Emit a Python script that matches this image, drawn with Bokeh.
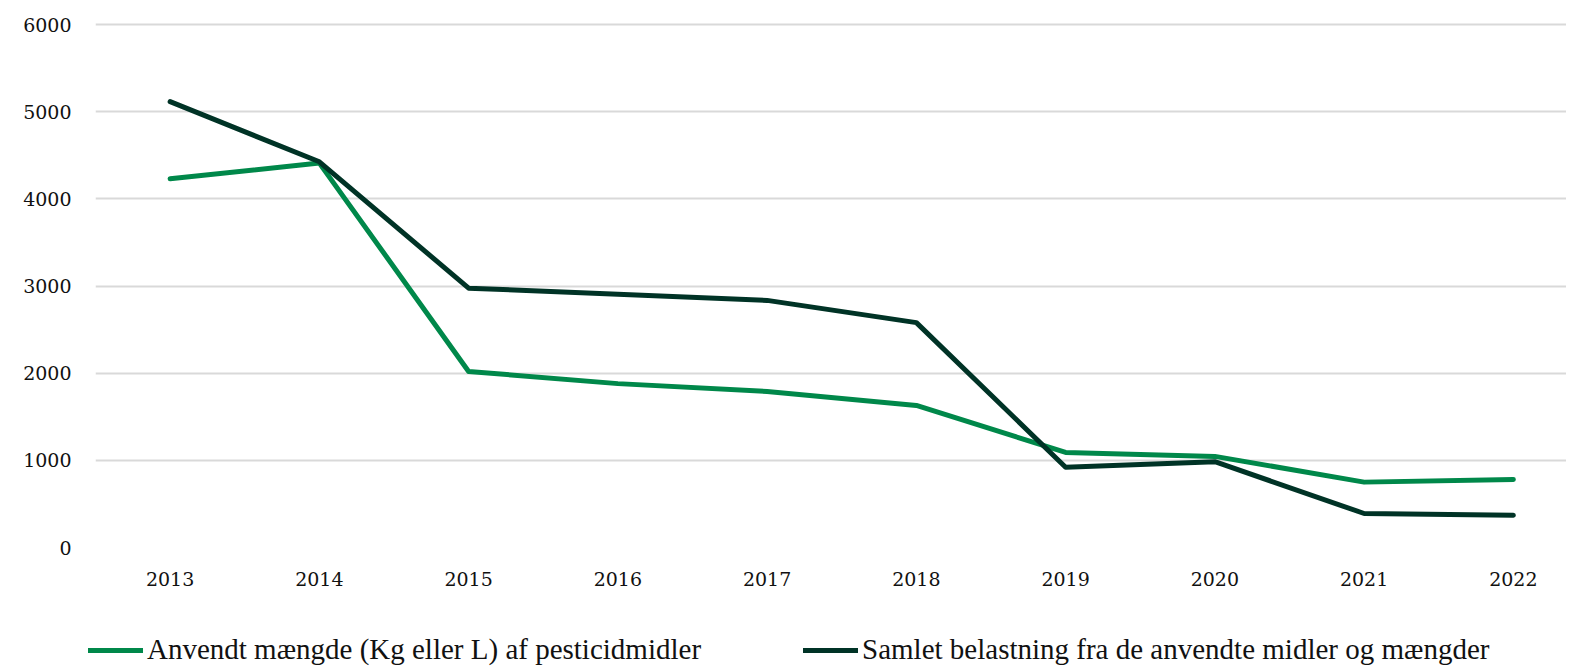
from bokeh.plotting import figure
from bokeh.models import Range1d, FixedTicker, Legend, LegendItem
from bokeh.embed import file_html
from bokeh.resources import INLINE

years = ["2013", "2014", "2015", "2016", "2017", "2018", "2019", "2020", "2021", "2022"]
anvendt = [4230, 4410, 2020, 1880, 1790, 1630, 1090, 1045, 750, 780]
belastning = [5115, 4425, 2975, 2905, 2835, 2580, 920, 985, 390, 370]
y_ticks = [0, 1000, 2000, 3000, 4000, 5000, 6000]
label_anvendt = "Anvendt mængde (Kg eller L) af pesticidmidler"
label_belastning = "Samlet belastning fra de anvendte midler og mængder"

GREEN = "#00884a"
DARK = "#003326"
TICK_FONT = "DejaVu Serif"
LEG_FONT = "Liberation Serif"

x = list(range(len(years)))

p = figure(width=1566, height=597, output_backend="svg", toolbar_location=None,
           x_range=Range1d(-0.5, 9.356), y_range=Range1d(0, 6000 * 526 / 523),
           min_border_left=95, min_border_top=21, min_border_right=0, min_border_bottom=50)
p.outline_line_color = None
p.background_fill_color = "white"
p.border_fill_color = "white"

p.line(x, anvendt, line_color=GREEN, line_width=5, line_cap="round", line_join="round")
p.line(x, belastning, line_color=DARK, line_width=5, line_cap="round", line_join="round")

p.xgrid.grid_line_color = None
p.ygrid.grid_line_color = "#d9d9d9"
p.ygrid.grid_line_width = 2
p.yaxis.ticker = FixedTicker(ticks=y_ticks)
p.xaxis.ticker = FixedTicker(ticks=x)
p.xaxis.major_label_overrides = {i: y for i, y in enumerate(years)}

for ax in (p.xaxis[0], p.yaxis[0]):
    ax.axis_line_color = None
    ax.major_tick_line_color = None
    ax.minor_tick_line_color = None
    ax.major_label_text_font = TICK_FONT
    ax.major_label_text_font_size = "19px"
    ax.major_label_text_color = "#111111"
p.yaxis.major_label_standoff = 18
p.xaxis.major_label_standoff = 18

# legend strip (a separate figure with no axes)
lf = figure(width=1566, height=69, output_backend="svg", toolbar_location=None,
            x_range=Range1d(0, 1), y_range=Range1d(0, 1),
            x_axis_location=None, y_axis_location=None,
            min_border_left=0, min_border_top=0, min_border_right=0, min_border_bottom=0)
lf.grid.visible = False
lf.outline_line_color = None
l1 = lf.line([-5, -4], [-5, -5], line_color=GREEN, line_width=5, line_cap="round")
l2 = lf.line([-5, -4], [-5, -5], line_color=DARK, line_width=5, line_cap="round")
legend = Legend(items=[LegendItem(label=label_anvendt, renderers=[l1]),
                       LegendItem(label=label_belastning, renderers=[l2])],
                orientation="horizontal", location=(88, 0),
                label_text_font=LEG_FONT, label_text_font_size="29px", label_text_color="#111111",
                glyph_width=55, glyph_height=24, label_standoff=4, spacing=102,
                padding=0, margin=0, border_line_color=None, background_fill_alpha=0)
lf.add_layout(legend)

open("out.html", "w").write(file_html([p, lf], INLINE))
